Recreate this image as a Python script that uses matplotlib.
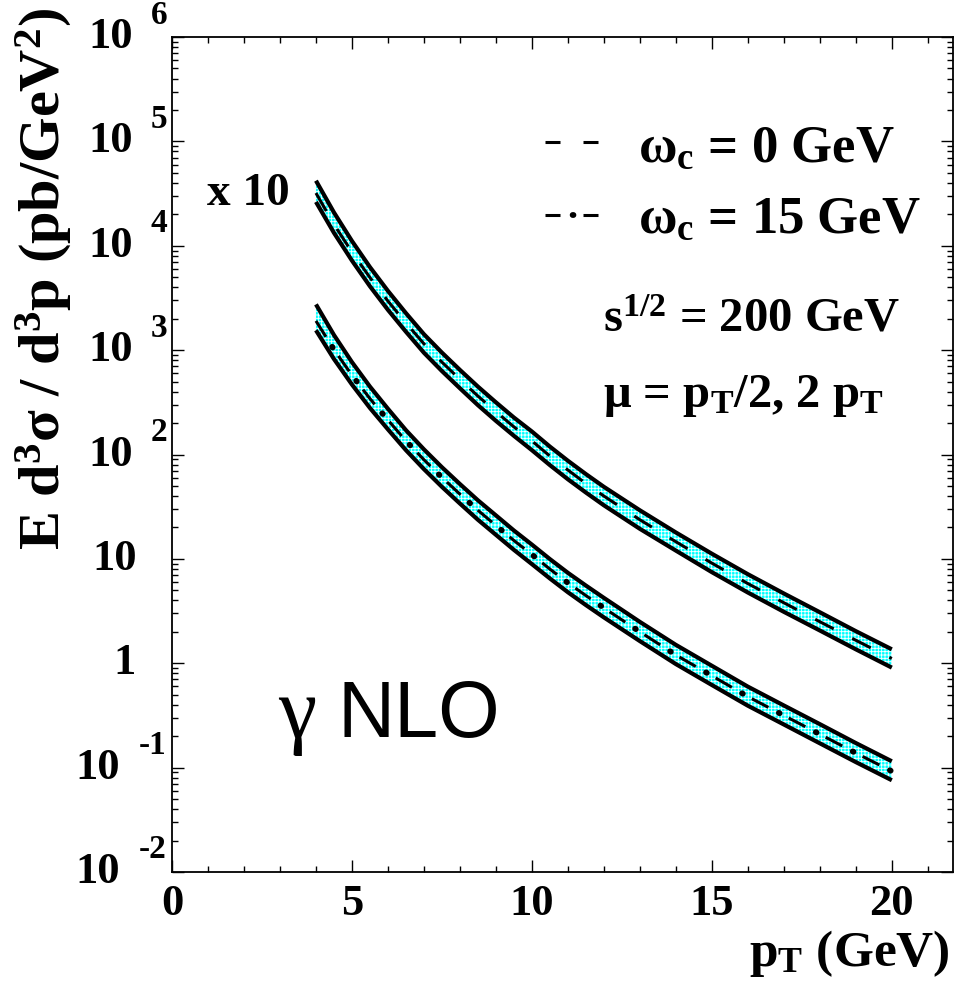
import numpy as np
import matplotlib
matplotlib.use('Agg')
import matplotlib.pyplot as plt
import matplotlib.transforms as mtransforms
from matplotlib.ticker import LogLocator, NullFormatter

plt.rcParams['font.family'] = ['Liberation Serif', 'DejaVu Serif']
plt.rcParams['font.weight'] = 'bold'
plt.rcParams['mathtext.fontset'] = 'custom'
plt.rcParams['mathtext.rm'] = 'Liberation Serif:bold'
plt.rcParams['mathtext.it'] = 'Liberation Serif:bold'
plt.rcParams['mathtext.bf'] = 'Liberation Serif:bold'
plt.rcParams['hatch.color'] = 'white'
plt.rcParams['hatch.linewidth'] = 0.6
plt.rcParams['lines.scale_dashes'] = False

# photon pT (GeV)
pt = [4, 4.5, 5, 5.5, 6, 6.5, 7, 7.5, 8, 8.5, 9, 9.5, 10, 10.5, 11, 11.5,
      12, 13, 14, 15, 16, 17, 18, 19, 20]

# omega_c = 0 GeV, central value and scale band (pb/GeV^2), drawn x10
w0_mid = [3200, 1603, 870, 496, 295, 182, 115, 76.7, 52.5, 36.3, 25.7, 18.4,
          13.5, 9.66, 7.1, 5.27, 4.0, 2.37, 1.46, 0.91, 0.58, 0.38, 0.25,
          0.166, 0.111]
w0_hi = [4200, 2084, 1110, 624, 369, 226, 142, 94.6, 64.6, 44.7, 31.6, 22.6,
         16.6, 11.9, 8.71, 6.49, 4.90, 2.92, 1.79, 1.12, 0.713, 0.466, 0.308,
         0.203, 0.136]
w0_lo = [2630, 1330, 721, 409, 243, 150, 94.4, 63.0, 43.1, 29.7, 21.0, 15.1,
         11.0, 7.91, 5.79, 4.32, 3.26, 1.94, 1.20, 0.746, 0.476, 0.311, 0.206,
         0.136, 0.0908]
w0_factor = 10

# omega_c = 15 GeV
w15_mid = [1905, 1012, 575, 343, 214, 135, 89.1, 60.3, 41.7, 29.2, 20.9, 15.0,
           11.0, 7.98, 5.89, 4.45, 3.39, 2.0, 1.20, 0.759, 0.479, 0.316, 0.209,
           0.138, 0.0923]
w15_hi = [2742, 1396, 767, 447, 274, 171, 112, 75.5, 52.1, 36.4, 26.1, 18.7,
          13.7, 9.95, 7.35, 5.55, 4.23, 2.49, 1.50, 0.946, 0.597, 0.394, 0.261,
          0.172, 0.115]
w15_lo = [1549, 822, 468, 279, 174, 110, 72.4, 49.0, 33.9, 23.7, 17.0, 12.2,
          8.91, 6.49, 4.79, 3.61, 2.75, 1.63, 0.982, 0.619, 0.392, 0.259, 0.171,
          0.113, 0.0757]

x_ticks = [0, 5, 10, 15, 20]
y_decades = [-2, -1, 0, 1, 2, 3, 4, 5, 6]

W, H = 965, 991
fig = plt.figure(figsize=(W / 100, H / 100), dpi=100)
ax = fig.add_axes([172 / W, 1 - 872 / H, 781 / W, 835 / H])


def fpos(x, y):
    # pixel position -> figure fraction
    return x / W, 1 - y / H


def draw_band(x, lo, mid, hi, k, dotted):
    lo = np.asarray(lo) * k
    mid = np.asarray(mid) * k
    hi = np.asarray(hi) * k
    ax.fill_between(x, lo, hi, facecolor='#00ffff', edgecolor='white',
                    hatch='+++++', linewidth=0, zorder=1)
    for edge in (lo, hi):
        ax.plot(x, edge, color='black', lw=3.0, solid_capstyle='butt',
                solid_joinstyle='round', zorder=3)
    if dotted:
        ax.plot(x, mid, color='black', lw=2.2, ls=(0, (13.5, 16.5)),
                dash_capstyle='butt', zorder=2)
        ax.plot(x, mid, color='black', lw=4.2, ls=(8.0, (0.6, 29.4)),
                dash_capstyle='round', zorder=2)
    else:
        ax.plot(x, mid, color='black', lw=2.2, ls=(0, (15, 15)),
                dash_capstyle='butt', zorder=2)


draw_band(pt, w0_lo, w0_mid, w0_hi, w0_factor, dotted=False)
draw_band(pt, w15_lo, w15_mid, w15_hi, 1, dotted=True)

ax.set_xlim(0, 21.7)
ax.set_yscale('log')
ax.set_ylim(1e-2, 1e6)
ax.set_xticks(x_ticks)
ax.set_xticks(range(0, 22), minor=True)
ax.yaxis.set_major_locator(LogLocator(base=10, numticks=20))
ax.yaxis.set_minor_locator(LogLocator(base=10, subs=np.arange(2, 10), numticks=20))
ax.yaxis.set_minor_formatter(NullFormatter())
ax.tick_params(which='both', direction='in', top=True, right=True,
               labelleft=False, labelbottom=False, color='black')
ax.tick_params(which='major', length=8.5, width=1.0)
ax.tick_params(which='minor', length=4.5, width=1.0)
for s in ax.spines.values():
    s.set_linewidth(1.3)

# x tick labels
tx = mtransforms.blended_transform_factory(ax.transData, ax.transAxes)
for v in x_ticks:
    ax.text(v, -0.0144, str(v), transform=tx, ha='center', va='top',
            fontsize=32, fontweight='bold')

# y tick labels, ROOT style "10 ^n"
ty = mtransforms.blended_transform_factory(ax.transAxes, ax.transData)
ty_up = mtransforms.offset_copy(ty, fig=fig, x=0, y=22, units='dots')
for k in y_decades:
    val = 10.0 ** k
    if k == 0:
        ax.text((136 - 172) / 781, val, '1', transform=ty, ha='right',
                va='center', fontsize=32)
    elif k == 1:
        ax.text((137 - 172) / 781, val, '10', transform=ty, ha='right',
                va='center', fontsize=32)
    else:
        base_right = 120 if k < 0 else 133
        ax.text((base_right - 172) / 781, val, '10', transform=ty, ha='right',
                va='center', fontsize=32)
        ax.text((167 - 172) / 781, val, str(k), transform=ty_up, ha='right',
                va='center', fontsize=24)

# axis titles
fig.text(*fpos(950, 966), r'$\mathrm{p_T}$ (GeV)', ha='right', va='baseline',
         fontsize=37)
fig.text(*fpos(44, 279), r'E d$^{3}\sigma$ / d$^{3}$p (pb/GeV$^{2}$)',
         rotation=90, ha='center', va='center', fontsize=42)

# legend samples
lx = [(545 - 172) / 781, (603 - 172) / 781]
y1 = (872 - 142) / 835
y2 = (872 - 215) / 835
ax.plot(lx, [y1, y1], transform=ax.transAxes, color='black', lw=2.2,
        ls=(0, (10.8, 16.56)), dash_capstyle='butt', clip_on=False)
ax.plot(lx, [y2, y2], transform=ax.transAxes, color='black', lw=2.2,
        ls=(0, (10.8, 16.56)), dash_capstyle='butt', clip_on=False)
ax.plot(lx, [y2, y2], transform=ax.transAxes, color='black', lw=4.2,
        ls=(7.47, (0.6, 26.76)), dash_capstyle='round', clip_on=False)

fig.text(*fpos(638, 162), r'$\mathrm{\omega_c}$ = 0 GeV', ha='left',
         va='baseline', fontsize=38)
fig.text(*fpos(638, 233), r'$\mathrm{\omega_c}$ = 15 GeV', ha='left',
         va='baseline', fontsize=38)
fig.text(*fpos(603, 332), r'$\mathrm{s^{1/2}}$ = 200 GeV', ha='left',
         va='baseline', fontsize=35)
fig.text(*fpos(603, 407), r'$\mathrm{\mu}$ = $\mathrm{p_T}$/2, 2 $\mathrm{p_T}$',
         ha='left', va='baseline', fontsize=35)
fig.text(*fpos(207, 205), 'x 10', ha='left', va='baseline', fontsize=34)

# process label
fig.text(*fpos(278, 737), '\u03b3', ha='left', va='baseline', fontsize=62,
         fontweight='normal', family=['Liberation Serif'])
fig.text(*fpos(338, 737), 'NLO', ha='left', va='baseline', fontsize=57,
         fontweight='normal', family=['Liberation Sans'])

fig.savefig('out.png', dpi=100)
